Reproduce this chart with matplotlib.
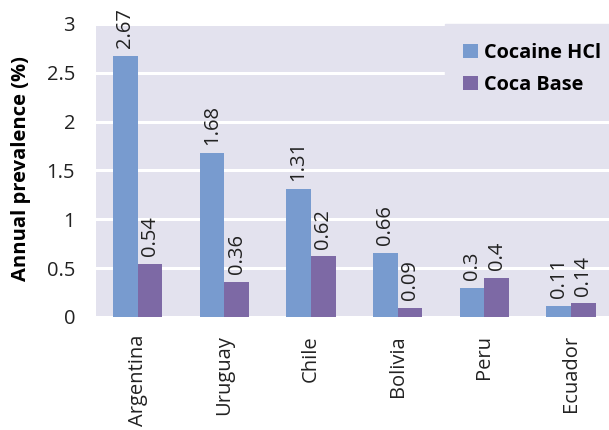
import matplotlib.pyplot as plt
import numpy as np

plt.rcParams['font.family'] = ['Open Sans', 'DejaVu Sans']

countries = ["Argentina", "Uruguay", "Chile", "Bolivia", "Peru", "Ecuador"]
cocaine_hcl = [2.67, 1.68, 1.31, 0.66, 0.3, 0.11]
coca_base = [0.54, 0.36, 0.62, 0.09, 0.4, 0.14]
yticks = [0, 0.5, 1, 1.5, 2, 2.5, 3]
ytick_labels = ["0", "0.5", "1", "1.5", "2", "2.5", "3"]

bg = "#e3e2ee"
blue = "#789bcf"
purple = "#7d69a5"
txt = "#222222"

fig = plt.figure(figsize=(6.09, 4.30), dpi=100)
ax = fig.add_axes([0.1576, 0.2628, 0.8424, 0.6814])
ax.set_facecolor(bg)

x = np.arange(len(countries))
w = 0.285
b1 = ax.bar(x - w / 2, cocaine_hcl, w, color=blue, label="Cocaine HCl", zorder=3)
b2 = ax.bar(x + w / 2, coca_base, w, color=purple, label="Coca Base", zorder=3)

# value labels above the bars
for bars, vals in [(b1, cocaine_hcl), (b2, coca_base)]:
    for r, v in zip(bars, vals):
        ax.text(r.get_x() + r.get_width() / 2, v + 0.08, f"{v:g}", rotation=90,
                ha="center", va="bottom", fontsize=14.5, color=txt, zorder=4,
                clip_on=False)

ax.set_ylim(0, 3)
ax.set_xlim(-0.48, 5.44)
ax.set_yticks(yticks)
ax.set_yticklabels(ytick_labels)
ax.set_xticks(x)
ax.set_xticklabels(countries, rotation=90)
ax.tick_params(axis="both", length=0, labelsize=14.5, colors=txt)
ax.tick_params(axis="y", pad=15)
ax.tick_params(axis="x", pad=13)
ax.yaxis.grid(True, color="white", linewidth=2.2, zorder=0)
ax.set_axisbelow(True)
for s in ax.spines.values():
    s.set_visible(False)

ax.set_ylabel("Annual prevalence (%)", fontsize=14.5, fontweight="bold", va="center")
ax.yaxis.set_label_coords(-0.146, 0.507)

leg = ax.legend(loc="upper right", bbox_to_anchor=(1.022, 1.0), frameon=True,
                facecolor=bg, edgecolor=bg, framealpha=1, fancybox=False,
                prop={"weight": "bold", "size": 14.3}, handlelength=0.75,
                handleheight=0.75, handletextpad=0.3, borderaxespad=0.0,
                borderpad=0.95, labelspacing=0.6)
leg.set_zorder(5)

fig.savefig("out.png", dpi=100)
